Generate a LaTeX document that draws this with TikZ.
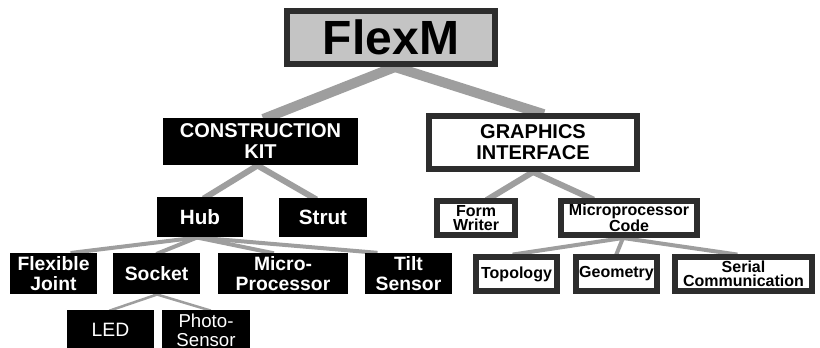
\documentclass[tikz,border=0pt]{standalone}
\usepackage{fontspec}
\setmainfont{Liberation Sans}
\usetikzlibrary{calc,backgrounds}

\definecolor{framegray}{RGB}{45,45,45}
\definecolor{linkgray}{RGB}{158,158,158}
\definecolor{topgray}{RGB}{196,196,196}
\newcommand\fsz[2]{\fontsize{#1}{#2}\selectfont}

\tikzset{every picture/.style={line width=0.75pt}}
\tikzset{
  blackbox/.style={fill=black,text=white,align=center,inner sep=0pt},
  framebox/.style={draw=framegray,line width=4.5pt,fill=white,align=center,inner sep=0pt},
  link/.style={draw=linkgray,shorten <=-3pt,shorten >=-3pt},
}

\begin{document}
\begin{tikzpicture}[x=0.75pt,y=0.75pt,yscale=-1,xscale=1]
	\useasboundingbox (0,0) rectangle (820,348);
	
	% Text Node
	\node (flexm) [framebox,fill=topgray,minimum width=156pt,minimum height=39.75pt,font=\fsz{36}{38}\bfseries] at (391,37.5) {FlexM};
	% Text Node
	\node (kit) [blackbox,minimum width=146.25pt,minimum height=35.25pt,font=\fsz{15}{15.75}\bfseries] at (260.5,141.5) {CONSTRUCTION\\KIT};
	% Text Node
	\node (gui) [framebox,minimum width=156pt,minimum height=39.75pt,font=\fsz{15}{15.75}\bfseries] at (533,142.5) {GRAPHICS\\INTERFACE};
	% Text Node
	\node (hub) [blackbox,minimum width=64.5pt,minimum height=30pt,font=\fsz{15.5}{16}\bfseries] at (200,217) {Hub};
	% Text Node
	\node (strut) [blackbox,minimum width=66pt,minimum height=29.25pt,font=\fsz{15.5}{16}\bfseries] at (323,217.5) {Strut};
	% Text Node
	\node (form) [framebox,minimum width=58.5pt,minimum height=25.5pt,font=\fsz{12}{10.5}\bfseries] at (476,218) {Form\\Writer};
	% Text Node
	\node (mcode) [framebox,minimum width=102pt,minimum height=25.5pt,font=\fsz{12}{10.5}\bfseries] at (629,218) {Microprocessor\\Code};
	% Text Node
	\node (joint) [blackbox,minimum width=65.25pt,minimum height=30.75pt,font=\fsz{14.5}{14.5}\bfseries] at (53.5,273.5) {Flexible\\Joint};
	% Text Node
	\node (socket) [blackbox,minimum width=65.25pt,minimum height=30.75pt,font=\fsz{14.5}{14.5}\bfseries] at (156.5,273.5) {Socket};
	% Text Node
	\node (mproc) [blackbox,minimum width=97.5pt,minimum height=30.75pt,font=\fsz{14.5}{14.5}\bfseries] at (283,273.5) {Micro-\\Processor};
	% Text Node
	\node (tilt) [blackbox,minimum width=65.25pt,minimum height=30.75pt,font=\fsz{14.5}{14.5}\bfseries] at (408.5,273.5) {Tilt\\Sensor};
	% Text Node
	\node (led) [blackbox,minimum width=65.25pt,minimum height=30pt,font=\fsz{14.5}{14}] at (110.5,330) {LED};
	% Text Node
	\node (photo) [blackbox,minimum width=66pt,minimum height=30pt,font=\fsz{14}{14}] at (206,330) {Photo-\\Sensor};
	% Text Node
	\node (topo) [framebox,minimum width=60.75pt,minimum height=25.5pt,font=\fsz{12}{10.5}\bfseries] at (516.5,274) {Topology};
	% Text Node
	\node (geom) [framebox,minimum width=60.75pt,minimum height=25.5pt,font=\fsz{12}{10.5}\bfseries] at (616.5,274) {Geometry};
	% Text Node
	\node (serial) [framebox,minimum width=102.75pt,minimum height=25.5pt,font=\fsz{12}{10.5}\bfseries] at (743.5,274) {Serial\\Communication};
	
	\begin{scope}[on background layer]
	% Connection
	\draw [link,line width=7.5pt] ($(flexm.south)+(4,0)$) -- ($(kit.north)+(6.5,0)$);
	\draw [link,line width=7.5pt] ($(flexm.south)+(4,0)$) -- ($(gui.north)+(7,0)$);
	% Connection
	\draw [link,line width=4.5pt] ($(kit.south)+(-3,0)$) -- ($(hub.north)+(7,0)$);
	\draw [link,line width=4.5pt] ($(kit.south)+(-3,0)$) -- ($(strut.north)+(-10,0)$);
	% Connection
	\draw [link,line width=4.5pt] (gui.south) -- ($(form.north)+(14,0)$);
	\draw [link,line width=4.5pt] (gui.south) -- ($(mcode.north)+(-39,0)$);
	% Connection
	\draw [link,line width=3pt] ($(hub.south)+(-3,0)$) -- ($(joint.north)+(21,0)$);
	\draw [link,line width=3pt] ($(hub.south)+(-3,0)$) -- ($(socket.north)+(3.5,0)$);
	\draw [link,line width=3pt] ($(hub.south)+(-3,0)$) -- ($(mproc.north)+(-13,0)$);
	\draw [link,line width=3pt] ($(hub.south)+(-3,0)$) -- ($(tilt.north)+(-35,0)$);
	% Connection
	\draw [link,line width=3pt] ($(mcode.south)+(-6,0)$) -- (topo.north);
	\draw [link,line width=3pt] ($(mcode.south)+(-6,0)$) -- (geom.north);
	\draw [link,line width=3pt] ($(mcode.south)+(-6,0)$) -- ($(serial.north)+(-10,0)$);
	% Connection
	\draw [link,line width=1.9pt] ($(socket.south)+(0.5,0)$) -- ($(led.north)+(2.5,0)$);
	\draw [link,line width=1.9pt] ($(socket.south)+(0.5,0)$) -- ($(photo.north)+(1,0)$);
	\end{scope}
	
\end{tikzpicture}
\end{document}
